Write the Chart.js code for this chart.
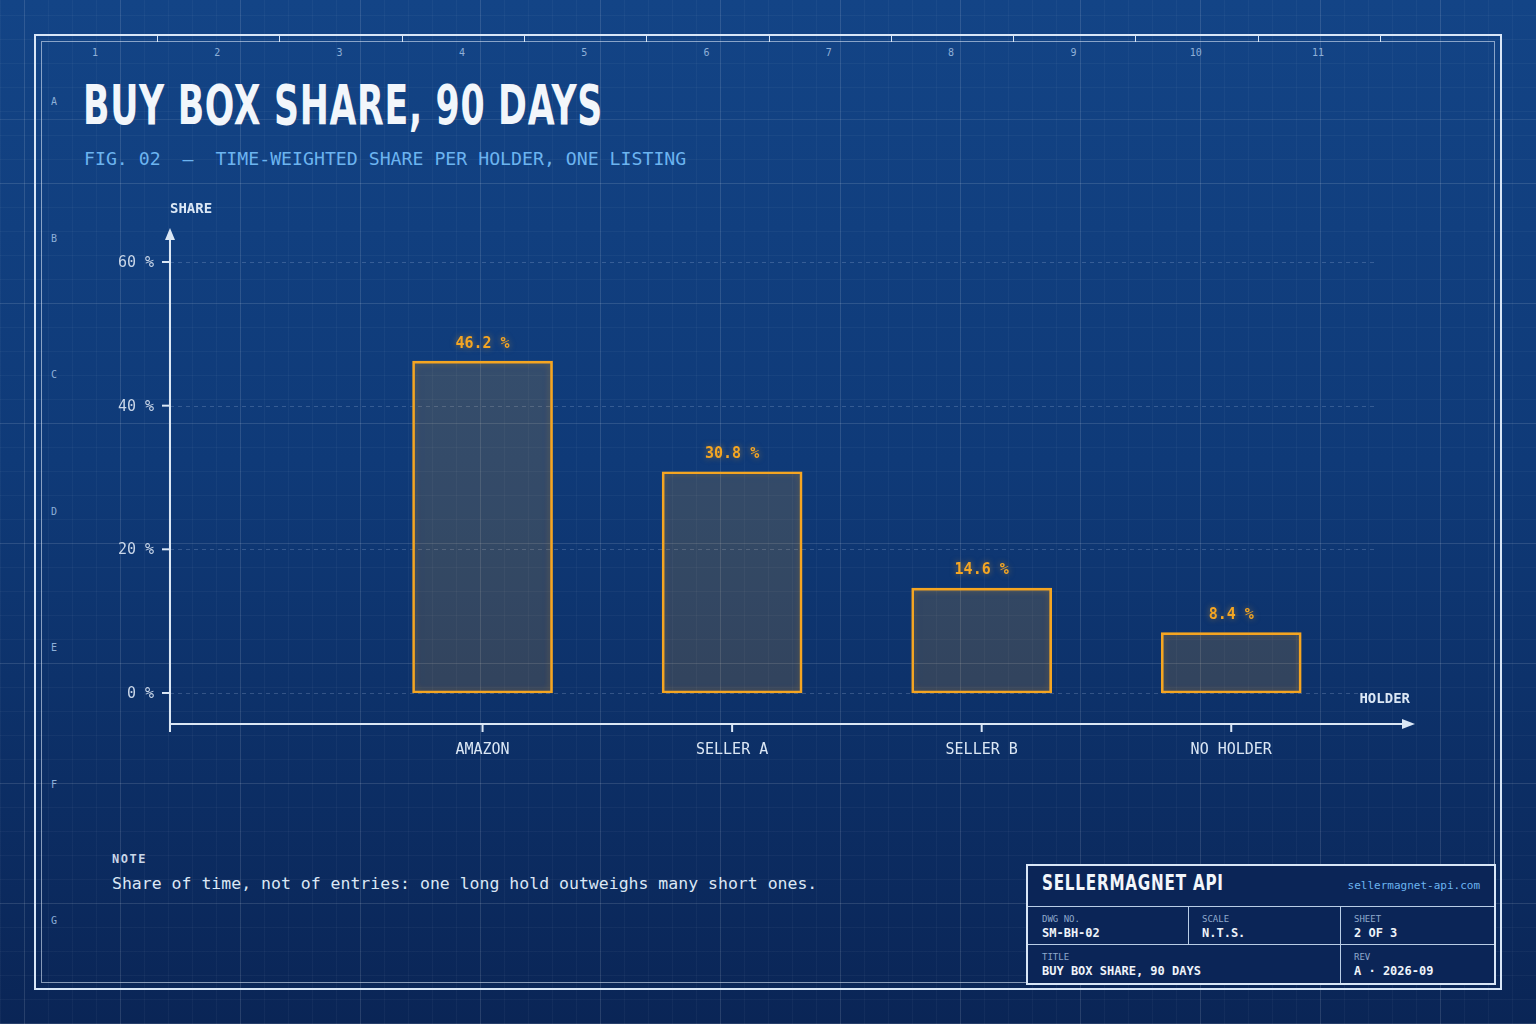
<!DOCTYPE html>
<html>
<head>
<meta charset="utf-8">
<script src="https://cdn.jsdelivr.net/npm/chart.js@4.4.1/dist/chart.umd.min.js"></script>
<style>
  html, body { margin: 0; padding: 0; }
  body {
    width: 1536px; height: 1024px; position: relative; overflow: hidden;
    font-family: "DejaVu Sans Mono", monospace; color: #dbe7f5;
    background:
      repeating-linear-gradient(90deg, rgba(255,255,255,0.09) 0 1px, transparent 1px 120px),
      repeating-linear-gradient(0deg, rgba(255,255,255,0.09) 0 1px, transparent 1px 120px),
      repeating-linear-gradient(90deg, rgba(255,255,255,0.035) 0 1px, transparent 1px 24px),
      repeating-linear-gradient(0deg, rgba(255,255,255,0.035) 0 1px, transparent 1px 24px),
      linear-gradient(180deg, #134486 0%, #0f3a78 45%, #0a2556 100%);
    background-position: 120px 0, 0 120px, 0 0, 0 0, 0 0;
  }
  .abs { position: absolute; white-space: nowrap; }
  #frameOuter { left: 34px; top: 34px; width: 1464px; height: 952px; border: 2px solid #d8e6f7; }
  #frameInner { left: 41px; top: 41px; width: 1452px; height: 940px; border: 1px solid rgba(216,230,247,0.6); }
  .colnum, .rowlet { font-size: 10px; color: #8fb0d8; }
  #title { left: 83px; top: 72px; font-family: "DejaVu Sans Condensed", "DejaVu Sans"; font-stretch: condensed;
           font-weight: bold; font-size: 56px; color: #f2f6fb; transform-origin: 0 0; letter-spacing: 1px; }
  #sub { left: 84px; top: 148px; font-size: 18.2px; color: #6cb4f0; }
  #note1 { left: 112px; top: 852px; font-size: 12px; font-weight: bold; letter-spacing: 1.5px; color: #c9d6e8; }
  #note2 { left: 112px; top: 874px; font-size: 16.5px; color: #dbe7f5; }
  #block { left: 1026px; top: 864px; width: 466px; height: 117px; border: 2px solid #d8e6f7; background: #0b2557; }
  .cell { position: absolute; border-color: #b9cde6; border-style: solid; border-width: 0; }
  .lab { position: absolute; font-size: 9px; color: #8fa9cc; }
  .val { position: absolute; font-size: 12px; font-weight: bold; color: #eef3fa; }
  #brand { position: absolute; left: 14px; top: 4px; font-family: "DejaVu Sans Condensed", "DejaVu Sans"; font-stretch: condensed;
           font-weight: bold; font-size: 22px; color: #f2f6fb; transform-origin: 0 0; letter-spacing: 1px; }
  #url { position: absolute; right: 14px; top: 13px; font-size: 11px; color: #6cb4f0; }
  canvas { position: absolute; left: 0; top: 0; }
</style>
</head>
<body>
<div id="frameOuter" class="abs"></div>
<div id="frameInner" class="abs"></div>
<div id="rulers"></div>
<div id="title" class="abs">BUY BOX SHARE, 90 DAYS</div>
<div id="sub" class="abs">FIG. 02&nbsp;&nbsp;—&nbsp;&nbsp;TIME-WEIGHTED SHARE PER HOLDER, ONE LISTING</div>
<div id="note1" class="abs">NOTE</div>
<div id="note2" class="abs">Share of time, not of entries: one long hold outweighs many short ones.</div>
<div id="block" class="abs">
  <div id="brand">SELLERMAGNET API</div>
  <div id="url">sellermagnet-api.com</div>
  <div class="cell" style="left:0;top:40px;width:466px;height:0;border-top-width:1px"></div>
  <div class="cell" style="left:0;top:78px;width:466px;height:0;border-top-width:1px"></div>
  <div class="cell" style="left:160px;top:40px;width:0;height:38px;border-left-width:1px"></div>
  <div class="cell" style="left:312px;top:40px;width:0;height:77px;border-left-width:1px"></div>
  <div class="lab" style="left:14px;top:48px">DWG NO.</div><div class="val" style="left:14px;top:60px">SM-BH-02</div>
  <div class="lab" style="left:174px;top:48px">SCALE</div><div class="val" style="left:174px;top:60px">N.T.S.</div>
  <div class="lab" style="left:326px;top:48px">SHEET</div><div class="val" style="left:326px;top:60px">2 OF 3</div>
  <div class="lab" style="left:14px;top:86px">TITLE</div><div class="val" style="left:14px;top:98px">BUY BOX SHARE, 90 DAYS</div>
  <div class="lab" style="left:326px;top:86px">REV</div><div class="val" style="left:326px;top:98px">A · 2026-09</div>
</div>
<canvas id="chart" width="1536" height="1024"></canvas>
<script>
const holders = ['AMAZON', 'SELLER A', 'SELLER B', 'NO HOLDER'];
const shares = [46.2, 30.8, 14.6, 8.4];
const yTicks = [0, 20, 40, 60];
const columnNumbers = ['1','2','3','4','5','6','7','8','9','10','11'];
const rowLetters = ['A','B','C','D','E','F','G'];

// fit condensed headings to their reference widths
function fitWidth(id, w) {
  const el = document.getElementById(id);
  el.style.transform = 'scaleX(' + (w / el.offsetWidth) + ')';
}
fitWidth('title', 520);
fitWidth('brand', 182);

// sheet ruler: column numbers, row letters, top ticks
const rulers = document.getElementById('rulers');
columnNumbers.forEach((n, i) => {
  const d = document.createElement('div');
  d.className = 'abs colnum';
  d.textContent = n;
  d.style.left = (95 + i * 122.3 - n.length * 3) + 'px';
  d.style.top = '47px';
  rulers.appendChild(d);
  const t = document.createElement('div');
  t.className = 'abs';
  t.style.cssText = 'left:' + (157 + i * 122.3) + 'px;top:36px;width:1px;height:6px;background:#d8e6f7';
  rulers.appendChild(t);
});
rowLetters.forEach((l, i) => {
  const d = document.createElement('div');
  d.className = 'abs rowlet';
  d.textContent = l;
  d.style.left = '51px';
  d.style.top = (96 + i * 136.5) + 'px';
  rulers.appendChild(d);
});

const ORANGE = '#f5a623';
const INK = '#dbe7f5';

const blueprint = {
  id: 'blueprint',
  beforeDatasetsDraw(chart) {
    const { ctx, scales: { x, y }, chartArea } = chart;
    ctx.save();
    // dashed gridlines
    ctx.strokeStyle = 'rgba(190,210,240,0.22)';
    ctx.lineWidth = 1;
    ctx.setLineDash([4, 4]);
    yTicks.forEach(v => {
      const py = Math.round(y.getPixelForValue(v)) + 0.5;
      ctx.beginPath(); ctx.moveTo(chartArea.left, py); ctx.lineTo(1375, py); ctx.stroke();
    });
    ctx.setLineDash([]);
    // axes with arrows
    const ax = chartArea.left, ay = chartArea.bottom;
    ctx.strokeStyle = INK; ctx.fillStyle = INK; ctx.lineWidth = 2;
    ctx.beginPath(); ctx.moveTo(ax, ay + 8); ctx.lineTo(ax, 236); ctx.stroke();
    ctx.beginPath(); ctx.moveTo(ax, 228); ctx.lineTo(ax - 5, 240); ctx.lineTo(ax + 5, 240); ctx.closePath(); ctx.fill();
    ctx.beginPath(); ctx.moveTo(ax, ay); ctx.lineTo(1405, ay); ctx.stroke();
    ctx.beginPath(); ctx.moveTo(1415, ay); ctx.lineTo(1402, ay - 5); ctx.lineTo(1402, ay + 5); ctx.closePath(); ctx.fill();
    // y ticks and labels
    ctx.font = '15px "DejaVu Sans Mono"';
    ctx.textAlign = 'right'; ctx.textBaseline = 'middle';
    ctx.fillStyle = '#c9d6e8';
    yTicks.forEach(v => {
      const py = y.getPixelForValue(v);
      ctx.beginPath(); ctx.moveTo(ax - 8, py); ctx.lineTo(ax, py); ctx.stroke();
      ctx.fillText(v + ' %', 154, py + 1);
    });
    // x ticks and category labels
    ctx.textAlign = 'center'; ctx.textBaseline = 'top';
    ctx.fillStyle = INK;
    holders.forEach((h, i) => {
      const px = x.getPixelForValue(i + 1);
      ctx.beginPath(); ctx.moveTo(px, ay); ctx.lineTo(px, ay + 8); ctx.stroke();
      ctx.fillText(h, px, 743);
    });
    // axis titles
    ctx.font = 'bold 14px "DejaVu Sans Mono"';
    ctx.textAlign = 'left'; ctx.textBaseline = 'middle';
    ctx.fillText('SHARE', 170, 209);
    ctx.textAlign = 'right';
    ctx.fillText('HOLDER', 1410, 699);
    ctx.restore();
  },
  afterDatasetsDraw(chart) {
    const { ctx } = chart;
    const meta = chart.getDatasetMeta(0);
    ctx.save();
    ctx.font = 'bold 15px "DejaVu Sans Mono"';
    ctx.fillStyle = ORANGE;
    ctx.textAlign = 'center'; ctx.textBaseline = 'bottom';
    ctx.shadowColor = 'rgba(245,166,35,0.5)'; ctx.shadowBlur = 6;
    meta.data.forEach((bar, i) => {
      ctx.fillText(shares[i].toFixed(1) + ' %', bar.x, bar.y - 10);
    });
    ctx.restore();
  },
  beforeDatasetDraw(chart) {
    chart.ctx.save();
    chart.ctx.shadowColor = 'rgba(245,166,35,0.3)';
    chart.ctx.shadowBlur = 6;
  },
  afterDatasetDraw(chart) { chart.ctx.restore(); }
};

new Chart(document.getElementById('chart'), {
  type: 'bar',
  data: {
    datasets: [{
      data: shares.map((v, i) => ({ x: i + 1, y: v })),
      backgroundColor: 'rgba(245,166,35,0.13)',
      borderColor: ORANGE,
      borderWidth: 2,
      borderSkipped: false,
      barThickness: 140
    }]
  },
  options: {
    responsive: false,
    animation: false,
    events: [],
    layout: { padding: { left: 170, right: 106, top: 262, bottom: 300 } },
    scales: {
      x: { type: 'linear', min: 0, max: 4.544, display: false },
      y: { min: -4.32, max: 60, display: false }
    },
    plugins: { legend: { display: false }, tooltip: { enabled: false } }
  },
  plugins: [blueprint]
});
</script>
</body>
</html>
